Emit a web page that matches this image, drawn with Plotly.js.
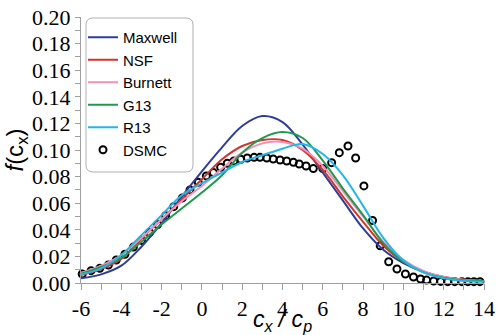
<!DOCTYPE html>
<html>
<head>
<meta charset="utf-8">
<script src="https://cdn.plot.ly/plotly-3.0.1.min.js"></script>
<style>html,body{margin:0;padding:0;background:#fff;}#chart{width:501px;height:335px;}</style>
</head>
<body>
<div id="chart"></div>
<script>
// curve sample positions (c_x / c_p)
const xCurve = [-6,-5,-4,-3,-2,-1,0,1,2,3,4,5,6,7,8,9,10,11,12,13,14];
const maxwell = [0.0035,0.0065,0.013,0.0273,0.045,0.065,0.084,0.102,0.118,0.1255,0.121,0.104,0.083,0.062,0.041,0.025,0.015,0.0085,0.0045,0.0025,0.0015];
const nsf     = [0.006,0.0105,0.018,0.0335,0.048,0.063,0.078,0.093,0.103,0.1075,0.1075,0.100,0.085,0.065,0.046,0.028,0.016,0.0085,0.0045,0.0025,0.0015];
const burnett = [0.0075,0.013,0.021,0.034,0.048,0.0615,0.073,0.086,0.098,0.105,0.106,0.101,0.088,0.069,0.050,0.031,0.0175,0.009,0.0045,0.0025,0.0015];
const g13     = [0.007,0.012,0.019,0.031,0.044,0.056,0.068,0.081,0.098,0.109,0.1135,0.109,0.092,0.071,0.051,0.030,0.016,0.008,0.004,0.002,0.0015];
const r13     = [0.0065,0.011,0.021,0.036,0.051,0.066,0.075,0.083,0.091,0.096,0.101,0.1045,0.097,0.081,0.058,0.034,0.017,0.008,0.0035,0.0015,0.001];

const dsmcX = [-5.94,-5.50,-5.07,-4.64,-4.25,-3.82,-3.4,-3.0,-2.6,-2.2,-1.80,-1.40,-0.97,-0.59,-0.18,0.22,0.57,0.93,1.26,1.59,1.93,2.25,2.59,2.88,3.22,3.54,3.88,4.21,4.54,4.83,5.17,5.53,6.0,6.44,6.82,7.25,7.63,8.04,8.47,8.85,9.27,9.68,10.1,10.5,10.85,11.15,11.5,11.85,12.2,12.55,12.9,13.2,13.5,13.8];
const dsmcY = [0.0068,0.0093,0.011,0.0135,0.0173,0.0216,0.027,0.032,0.038,0.044,0.0506,0.0574,0.064,0.070,0.0757,0.0805,0.083,0.087,0.090,0.0917,0.093,0.094,0.0945,0.0945,0.094,0.0932,0.0925,0.0917,0.0907,0.0895,0.088,0.086,0.086,0.0905,0.098,0.103,0.094,0.073,0.047,0.028,0.016,0.0105,0.0068,0.0045,0.003,0.0022,0.0015,0.0012,0.001,0.001,0.001,0.001,0.001,0.001];

const xTickVals = [-6,-4,-2,0,2,4,6,8,10,12,14];
const xTickText = ['-6','-4','-2','0','2','4','6','8','10','12','14'];
const yTickVals = [0,0.02,0.04,0.06,0.08,0.10,0.12,0.14,0.16,0.18,0.20];
const yTickText = ['0.00','0.02','0.04','0.06','0.08','0.10','0.12','0.14','0.16','0.18','0.20'];

const seriesNames = ['Maxwell','NSF','Burnett','G13','R13','DSMC'];
const seriesColors = ['#2e3d9c','#d2352b','#f291b8','#1f9a4c','#22b7ea','#000000'];
const xTitle = '<i>c<sub>x</sub> / c<sub>p</sub></i>';
const yTitle = '<i>f</i>(c<sub>x</sub>)';

const curves = [maxwell,nsf,burnett,g13,r13];

const traces = [{
  x: dsmcX, y: dsmcY, name: seriesNames[5], type: 'scatter', mode: 'markers',
  marker: {symbol: 'circle-open', size: 7, color: seriesColors[5], line: {width: 2, color: seriesColors[5]}},
  legendrank: 6, cliponaxis: false
}];
curves.forEach((c, i) => {
  traces.push({
    x: xCurve, y: c, name: seriesNames[i], type: 'scatter', mode: 'lines',
    line: {color: seriesColors[i], width: 2, shape: 'spline', smoothing: 1},
    legendrank: i + 1
  });
});

// plot area in pixels
const L = 81, R = 484, T = 17, B = 283, W = 501, H = 335;
const px = v => (v - L) / (R - L);
const py = v => (B - v) / (B - T);
// rounded legend frame
const bx0 = px(86), bx1 = px(193), by0 = py(172), by1 = py(18);
const rx = 7 / (R - L), ry = 7 / (B - T);
const framePath = `M ${bx0+rx},${by1} L ${bx1-rx},${by1} Q ${bx1},${by1} ${bx1},${by1-ry} L ${bx1},${by0+ry} Q ${bx1},${by0} ${bx1-rx},${by0} L ${bx0+rx},${by0} Q ${bx0},${by0} ${bx0},${by0+ry} L ${bx0},${by1-ry} Q ${bx0},${by1} ${bx0+rx},${by1} Z`;

const serif = 'Liberation Serif';
const sans = 'Liberation Sans';

const layout = {
  width: W, height: H,
  font: {family: serif, size: 22, color: '#000'},
  margin: {l: L, r: W - R, t: T, b: H - B, pad: 0},
  paper_bgcolor: '#fff', plot_bgcolor: '#fff',
  showlegend: true,
  legend: {
    x: px(83), y: py(21), xanchor: 'left', yanchor: 'top',
    bgcolor: 'rgba(0,0,0,0)', borderwidth: 0,
    font: {family: sans, size: 15, color: '#000'},
    itemwidth: 30, tracegroupgap: 0
  },
  xaxis: {
    range: [-6, 14], tickmode: 'array', tickvals: xTickVals, ticktext: xTickText,
    showgrid: false, zeroline: false,
    showline: true, linecolor: '#a0a0a0', linewidth: 1,
    ticks: 'outside', ticklen: 6, tickcolor: '#a0a0a0', tickwidth: 1,
    minor: {dtick: 1, tick0: -6, ticks: 'outside', ticklen: 6, tickcolor: '#a0a0a0', showgrid: false},
    tickfont: {family: serif, size: 22, color: '#000'},
    title: {text: xTitle, font: {family: sans, size: 23, color: '#000'}}
  },
  yaxis: {
    range: [0, 0.2], tickmode: 'array', tickvals: yTickVals, ticktext: yTickText,
    showgrid: false, zeroline: false,
    showline: true, linecolor: '#a0a0a0', linewidth: 1,
    ticks: 'outside', ticklen: 5, tickcolor: '#a0a0a0', tickwidth: 1,
    minor: {dtick: 0.01, tick0: 0, ticks: 'outside', ticklen: 5, tickcolor: '#a0a0a0', showgrid: false},
    tickfont: {family: serif, size: 22, color: '#000'},
    title: {text: yTitle, font: {family: sans, size: 24, color: '#000'}, standoff: 0}
  },
  shapes: [{
    type: 'path', xref: 'paper', yref: 'paper', path: framePath,
    line: {color: '#b0b0b0', width: 1}, fillcolor: 'rgba(0,0,0,0)', layer: 'above'
  }]
};

Plotly.newPlot('chart', traces, layout, {displayModeBar: false, staticPlot: true});
</script>
</body>
</html>
